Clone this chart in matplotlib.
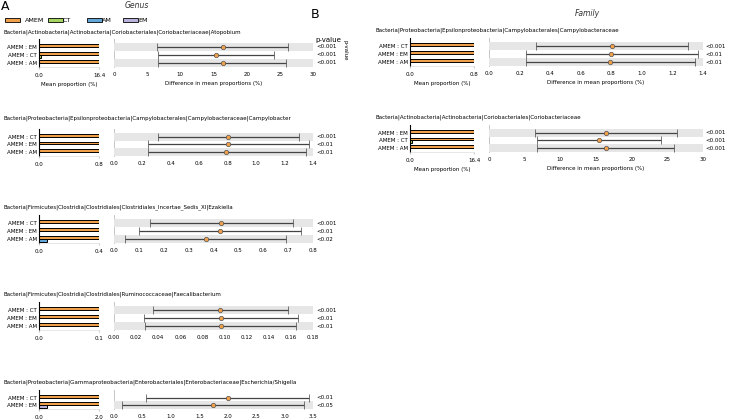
import matplotlib
matplotlib.use("Agg")
import matplotlib.pyplot as plt
from matplotlib.patches import Rectangle

plt.rcParams['font.family'] = ['DejaVu Sans']

W, H = 729, 420

# colours of the groups
group_colors = {"AMEM": "#f0a04b", "CT": "#a6d460", "AM": "#62a6d8", "EM": "#b9b2dd"}

# ---- Genus data (rows listed top to bottom) ----
genus_titles = [
    "Bacteria|Actinobacteria|Actinobacteria|Coriobacteriales|Coriobacteriaceae|Atopobium",
    "Bacteria|Proteobacteria|Epsilonproteobacteria|Campylobacterales|Campylobacteraceae|Campylobacter",
    "Bacteria|Firmicutes|Clostridia|Clostridiales|Clostridiales_Incertae_Sedis_XI|Ezakiella",
    "Bacteria|Firmicutes|Clostridia|Clostridiales|Ruminococcaceae|Faecalibacterium",
    "Bacteria|Proteobacteria|Gammaproteobacteria|Enterobacteriales|Enterobacteriaceae|Escherichia/Shigella",
]
genus_pairs = [["EM", "CT", "AM"], ["CT", "EM", "AM"], ["CT", "EM", "AM"], ["CT", "EM", "AM"], ["CT", "EM"]]
genus_amem = [[16.4, 16.4, 16.4], [0.8, 0.8, 0.8], [0.4, 0.4, 0.4], [0.1, 0.1, 0.1], [2.0, 2.0]]
genus_other = [[0.05, 0.55, 0.05], [0.002, 0.002, 0.006], [0.002, 0.002, 0.055], [0.0004, 0.0004, 0.0004], [0.01, 0.25]]
genus_diff = [[16.4, 15.4, 16.4], [0.805, 0.80, 0.79], [0.43, 0.425, 0.37], [0.096, 0.097, 0.097], [2.0, 1.74]]
genus_lo = [[6.5, 6.7, 6.7], [0.31, 0.24, 0.24], [0.145, 0.10, 0.045], [0.035, 0.027, 0.028], [0.57, 0.135]]
genus_hi = [[26.3, 24.1, 26.0], [1.30, 1.37, 1.35], [0.72, 0.75, 0.69], [0.157, 0.166, 0.165], [3.43, 3.35]]
genus_p = [["<0.001", "<0.001", "<0.001"], ["<0.001", "<0.01", "<0.01"], ["<0.001", "<0.01", "<0.02"],
           ["<0.001", "<0.01", "<0.01"], ["<0.01", "<0.05"]]
genus_bar_max = [16.4, 0.8, 0.4, 0.1, 2.0]
genus_diff_ticks = [[0, 5, 10, 15, 20, 25, 30],
                    [0.0, 0.2, 0.4, 0.6, 0.8, 1.0, 1.2, 1.4],
                    [0.0, 0.1, 0.2, 0.3, 0.4, 0.5, 0.6, 0.7, 0.8],
                    [0.00, 0.02, 0.04, 0.06, 0.08, 0.10, 0.12, 0.14, 0.16, 0.18],
                    [0.0, 0.5, 1.0, 1.5, 2.0, 2.5, 3.0, 3.5]]
genus_tick_fmt = ["{:.0f}", "{:.1f}", "{:.1f}", "{:.2f}", "{:.1f}"]

# ---- Family data ----
family_titles = [
    "Bacteria|Proteobacteria|Epsilonproteobacteria|Campylobacterales|Campylobacteraceae",
    "Bacteria|Actinobacteria|Actinobacteria|Coriobacteriales|Coriobacteriaceae",
]
family_pairs = [["CT", "EM", "AM"], ["EM", "CT", "AM"]]
family_amem = [[0.8, 0.8, 0.8], [16.4, 16.4, 16.4]]
family_other = [[0.002, 0.002, 0.006], [0.05, 0.55, 0.05]]
family_diff = [[0.805, 0.80, 0.79], [16.4, 15.4, 16.4]]
family_lo = [[0.31, 0.24, 0.24], [6.5, 6.7, 6.7]]
family_hi = [[1.30, 1.37, 1.35], [26.3, 24.1, 26.0]]
family_p = [["<0.001", "<0.01", "<0.01"], ["<0.001", "<0.001", "<0.001"]]
family_bar_max = [0.8, 16.4]
family_diff_ticks = [[0.0, 0.2, 0.4, 0.6, 0.8, 1.0, 1.2, 1.4], [0, 5, 10, 15, 20, 25, 30]]
family_tick_fmt = ["{:.1f}", "{:.0f}"]

fig = plt.figure(figsize=(W / 100, H / 100), dpi=100)
FS = 4.0


def px_axes(x0, y0, x1, y1):
    return fig.add_axes([x0 / W, 1 - y1 / H, (x1 - x0) / W, (y1 - y0) / H])


def draw_block(cols, top, bottom, title_y, title, pairs, amem, other, diff, lo, hi, pv,
               bar_max, dticks, fmt, xlabels=False):
    bx0, bx1, dx0, dx1, px, tx = cols
    n = len(pairs)
    ys = list(range(n))[::-1]  # top row has highest y
    fig.text(tx / W, 1 - title_y / H, title, fontsize=FS, va="center", ha="left")

    # mean proportion bars
    ab = px_axes(bx0, top, bx1, bottom)
    h = 0.36
    for y, g, a, o in zip(ys, pairs, amem, other):
        ab.barh(y + h / 2, a, height=h, color=group_colors["AMEM"], edgecolor="black", lw=0.7)
        ab.barh(y - h / 2, o, height=h, color=group_colors[g], edgecolor="black", lw=0.7)
    ab.set_xlim(0, bar_max)
    ab.set_ylim(-0.5, n - 0.5 + 0.5)
    ab.set_yticks(ys)
    ab.set_yticklabels(["AMEM : " + g for g in pairs], fontsize=FS)
    ab.set_xticks([0, bar_max])
    ab.set_xticklabels(["0.0", "{:.1f}".format(bar_max)], fontsize=FS)
    ab.tick_params(length=0, pad=1.5)
    ab.tick_params(axis="x", length=1.5, color="#cccccc", pad=2.5)
    for s in ["top", "right"]:
        ab.spines[s].set_visible(False)
    ab.spines["bottom"].set_color("#dddddd")
    ab.spines["bottom"].set_linewidth(0.5)
    ab.spines["left"].set_linewidth(0.8)

    # difference in mean proportions
    ad = px_axes(dx0, top, dx1, bottom)
    ad.set_xlim(dticks[0], dticks[-1])
    ad.set_ylim(-0.5, n - 0.5 + 0.5)
    for i, y in enumerate(ys):
        if (n - 1 - i) % 2 == 0:
            ad.axhspan(y - 0.5, y + 0.5, color="#e6e6e6", lw=0, zorder=3)
    for y, d, l, u in zip(ys, diff, lo, hi):
        ad.errorbar(d, y, xerr=[[d - l], [u - d]], fmt="o", color="#444444", ecolor="#444444",
                    elinewidth=0.9, capsize=3, capthick=0.7, markersize=3.2,
                    markerfacecolor=group_colors["AMEM"], markeredgecolor="#555555",
                    markeredgewidth=0.5, zorder=5)
    ad.set_xticks(dticks)
    ad.set_xticklabels([fmt.format(t) for t in dticks], fontsize=FS)
    ad.set_yticks([])
    ad.tick_params(axis="x", length=0, pad=3.5)
    for s in ["top", "right", "bottom"]:
        ad.spines[s].set_visible(False)
    ad.spines["left"].set_color("#bbbbbb")
    ad.spines["left"].set_linewidth(0.6)

    for y, p in zip(ys, pv):
        ad.text(1.0 + (px - dx1) / (dx1 - dx0), y, p, transform=ad.get_yaxis_transform(),
                fontsize=FS, va="center", ha="left")

    if xlabels:
        ab.set_xlabel("Mean proportion (%)", fontsize=FS, labelpad=3)
        ad.set_xlabel("Difference in mean proportions (%)", fontsize=FS, labelpad=3)


# column positions: bar x0, bar x1, diff x0, diff x1, p-value x, title x
genus_cols = (39, 99, 114, 313, 316, 3)
family_cols = (410, 474, 489, 703, 705, 375)

genus_rows = [(39, 67, 32), (129, 156, 118), (215, 243, 207), (302, 330, 294), (390, 409, 382)]
family_rows = [(38, 66, 30), (125, 152, 117)]

for k in range(5):
    t, b, ty = genus_rows[k]
    draw_block(genus_cols, t, b, ty, genus_titles[k], genus_pairs[k], genus_amem[k], genus_other[k],
               genus_diff[k], genus_lo[k], genus_hi[k], genus_p[k], genus_bar_max[k],
               genus_diff_ticks[k], genus_tick_fmt[k], xlabels=(k == 0))

for k in range(2):
    t, b, ty = family_rows[k]
    draw_block(family_cols, t, b, ty, family_titles[k], family_pairs[k], family_amem[k], family_other[k],
               family_diff[k], family_lo[k], family_hi[k], family_p[k], family_bar_max[k],
               family_diff_ticks[k], family_tick_fmt[k], xlabels=True)

# panel letters, headings
fig.text(1 / W, 1 - 7 / H, "A", fontsize=9, va="center", ha="left")
fig.text(311 / W, 1 - 15 / H, "B", fontsize=9, va="center", ha="left")
fig.text(137 / W, 1 - 6 / H, "Genus", fontsize=5.5, style="italic", color="#333333", va="center", ha="center")
fig.text(587 / W, 1 - 14 / H, "Family", fontsize=5.5, style="italic", color="#333333", va="center", ha="center")
fig.text(315 / W, 1 - 40 / H, "p-value", fontsize=5.0, va="center", ha="left")
fig.text(345 / W, 1 - 50 / H, "p-value", fontsize=4.0, rotation=270, va="center", ha="center")

# legend
legend_x = [(5, 25), (48, 63), (87, 102), (123, 138)]
for (lx, tx), g in zip(legend_x, ["AMEM", "CT", "AM", "EM"]):
    fig.patches.append(Rectangle((lx / W, 1 - 22 / H), 15 / W, 4 / H, transform=fig.transFigure,
                                 facecolor=group_colors[g], edgecolor="black", lw=0.6))
    fig.text(tx / W, 1 - 20 / H, g, fontsize=4.6, va="center", ha="left")

fig.savefig("out.png", dpi=100)
